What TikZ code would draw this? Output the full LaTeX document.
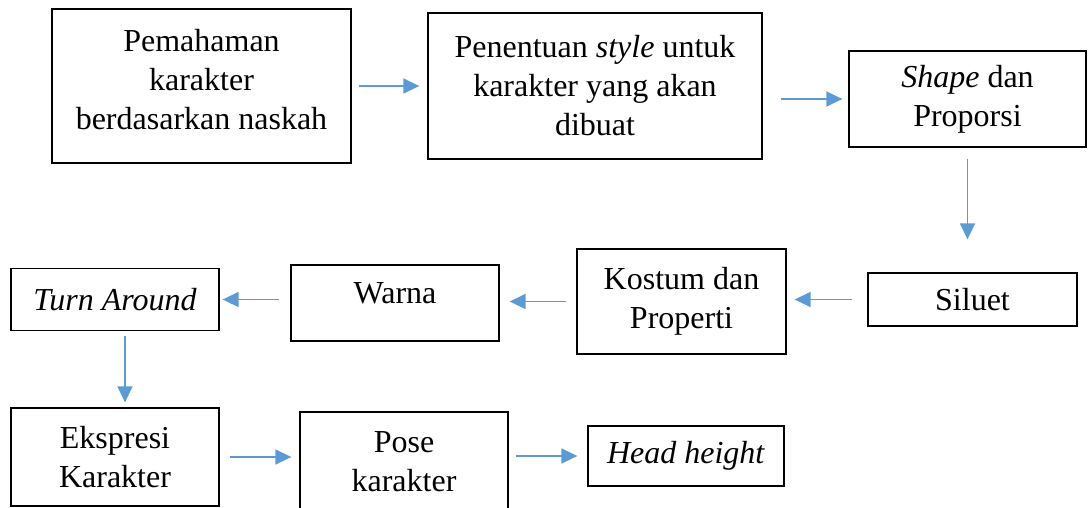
\documentclass[tikz,border=0pt]{standalone}
\usepackage{fontspec}
\setmainfont{Liberation Serif}
\usepackage{tikz}
\usetikzlibrary{arrows.meta}

\definecolor{flowblue}{RGB}{91,155,213}

\begin{document}
\begin{tikzpicture}[x=1pt, y=-1pt,
	tahap/.style={draw, line width=1.3pt, rectangle, inner sep=0pt, align=center, font=\fontsize{32}{39}\selectfont},
	alur/.style={draw=flowblue, line width=1.5pt, -{Triangle[length=16pt, width=15pt]}, flowblue}]
	\useasboundingbox (0,0) rectangle (1088,507);

	\node [tahap, minimum width=299pt, minimum height=154pt, text depth=14pt] (paham) at (201.5,86) {Pemahaman\\karakter\\berdasarkan naskah};
	\node [tahap, minimum width=334pt, minimum height=146pt] (style) at (595,86) {Penentuan \textit{style} untuk\\karakter yang akan\\dibuat};
	\node [tahap, minimum width=237pt, minimum height=96pt] (shape) at (967.5,99) {\textit{Shape} dan\\Proporsi};
	\node [tahap, minimum width=209pt, minimum height=53pt] (siluet) at (972.5,299.5) {Siluet};
	\node [tahap, minimum width=209pt, minimum height=105pt] (kostum) at (681.5,301.5) {Kostum dan\\Properti};
	\node [tahap, minimum width=208pt, minimum height=76pt, text depth=20pt] (warna) at (395,303) {Warna};
	\node [tahap, minimum width=208pt, minimum height=62pt] (turn) at (115,299.5) {\textit{Turn Around}};
	\node [tahap, minimum width=208pt, minimum height=98pt] (ekspresi) at (115,457) {Ekspresi\\Karakter};
	\node [tahap, minimum width=208pt, minimum height=100pt] (pose) at (404,462) {Pose\\karakter};
	\node [tahap, minimum width=196pt, minimum height=60pt] (head) at (686,456) {\textit{Head height}};

	\draw [alur, shorten <=7pt, shorten >=8pt] (paham.east) -- (style.west);
	\draw [alur, shorten <=18pt, shorten >=6pt] (style.east |- shape.west) -- (shape.west);
	\draw [alur, shorten <=11pt, shorten >=33pt] (shape.south) -- (shape.south |- siluet.north);
	\draw [alur, shorten <=15pt, shorten >=8pt] (siluet.west) -- (siluet.west -| kostum.east);
	\draw [alur, shorten <=10pt, shorten >=10pt] (kostum.west) -- (kostum.west -| warna.east);
	\draw [alur, shorten <=11pt, shorten >=3pt] (turn.east -| warna.west) -- (turn.east);
	\draw [alur, shorten <=5pt, shorten >=5pt] ([xshift=10pt]turn.south) -- ([xshift=10pt]ekspresi.north);
	\draw [alur, shorten <=10pt, shorten >=8pt] (ekspresi.east) -- (ekspresi.east -| pose.west);
	\draw [alur, shorten <=7pt, shorten >=10pt] (pose.east |- head.west) -- (head.west);
\end{tikzpicture}
\end{document}
